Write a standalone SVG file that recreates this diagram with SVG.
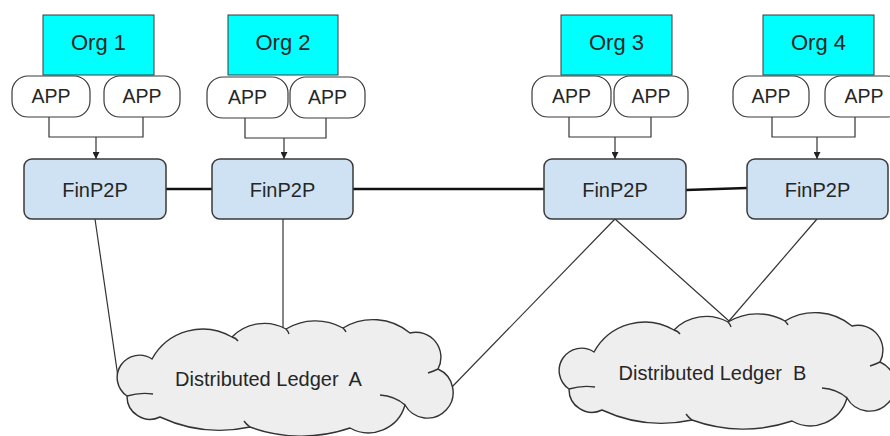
<svg xmlns="http://www.w3.org/2000/svg" width="890" height="436" viewBox="0 0 890 436">
<style>
.org{fill:#00ffff;stroke:#3a3a3a;stroke-width:1}
.app{fill:#ffffff;stroke:#3a3a3a;stroke-width:1.2}
.fin{fill:#cfe2f3;stroke:#3a3a3a;stroke-width:1.5}
.t{font-family:"Liberation Sans",Arial,sans-serif;fill:#262626;text-anchor:middle}
.to{font-size:22px}
.ta{font-size:19.5px}
.tf{font-size:20px}
.tc{font-size:20px;white-space:pre}
.conn{fill:none;stroke:#333;stroke-width:1.2}
.link{fill:none;stroke:#111;stroke-width:2.6}
.low{fill:none;stroke:#333;stroke-width:1.2}
.cloud{fill:#eeeeee;stroke:#333;stroke-width:1.4}
.hook{fill:none;stroke:#333;stroke-width:1.4}
</style>
<defs>
<marker id="arr" markerUnits="userSpaceOnUse" markerWidth="7" markerHeight="7" refX="7" refY="3.5" orient="auto">
<path d="M0,0 L7,3.5 L0,7 z" fill="#222"/>
</marker>
<g id="cloudShape">
<path class="cloud" d="M127,396 A22,22 0 0 1 152,359 A58,58 0 0 1 232,337 A45,45 0 0 1 286,329 A57,57 0 0 1 343,328 A58,58 0 0 1 410,333 A25,25 0 0 1 438,369 A25.7,25.7 0 1 1 405,405 A38,38 0 0 1 350,428 A150,150 0 0 1 250,427 A142,142 0 0 1 160,417 A23,23 0 0 1 127,396 Z"/>
<path class="hook" d="M127,396 Q140,392 153,394 M232,337 Q236,338 238,341 M286,329 Q288,331 289,334 M343,328 Q345,330 346,332 M438,369 Q434,371 428,373 M380,395 Q395,396 405,405 M250,427 Q246,424 244,421"/>
</g>
</defs>

<g id="connectors">
<path class="conn" d="M49,117 V137 H143 V117"/>
<path class="conn" d="M96,137 V159" marker-end="url(#arr)"/>
<path class="conn" d="M245,118 V138 H326 V118"/>
<path class="conn" d="M284,138 V159" marker-end="url(#arr)"/>
<path class="conn" d="M569,117 V137 H651 V117"/>
<path class="conn" d="M615,137 V159" marker-end="url(#arr)"/>
<path class="conn" d="M772,117 V137 H855 V117"/>
<path class="conn" d="M817,137 V159" marker-end="url(#arr)"/>
<path class="link" d="M166,189 H212"/>
<path class="link" d="M353,189 H544"/>
<path class="link" d="M686,190 L747,188"/>
<path class="low" d="M95,219 L118,377"/>
<path class="low" d="M283,219 V328"/>
<path class="low" d="M615,219 L451,388"/>
<path class="low" d="M615,219 L729,321"/>
<path class="low" d="M817,219 L729,321"/>
</g>

<g id="org1">
<rect class="org" x="43" y="15" width="111" height="60"/>
<text class="t to" x="98.5" y="50">Org 1</text>
</g>
<g id="org2">
<rect class="org" x="228" y="15" width="110" height="60"/>
<text class="t to" x="283" y="50">Org 2</text>
</g>
<g id="org3">
<rect class="org" x="561" y="15" width="111" height="60"/>
<text class="t to" x="616.5" y="50">Org 3</text>
</g>
<g id="org4">
<rect class="org" x="763" y="15" width="111" height="60"/>
<text class="t to" x="818.5" y="50">Org 4</text>
</g>

<g id="app1a"><rect class="app" x="12" y="76" width="78" height="41" rx="16"/><text class="t ta" x="51" y="103">APP</text></g>
<g id="app1b"><rect class="app" x="104" y="76" width="76" height="41" rx="16"/><text class="t ta" x="142" y="103">APP</text></g>
<g id="app2a"><rect class="app" x="207" y="77" width="81" height="41" rx="16"/><text class="t ta" x="247.5" y="104">APP</text></g>
<g id="app2b"><rect class="app" x="290" y="77" width="75" height="41" rx="16"/><text class="t ta" x="327.5" y="104">APP</text></g>
<g id="app3a"><rect class="app" x="532" y="76" width="79" height="41" rx="16"/><text class="t ta" x="571.5" y="103">APP</text></g>
<g id="app3b"><rect class="app" x="614" y="76" width="74" height="41" rx="16"/><text class="t ta" x="651" y="103">APP</text></g>
<g id="app4a"><rect class="app" x="733" y="76" width="76" height="41" rx="16"/><text class="t ta" x="771" y="103">APP</text></g>
<g id="app4b"><rect class="app" x="825" y="76" width="78" height="41" rx="16"/><text class="t ta" x="864" y="103">APP</text></g>

<g id="fin1"><rect class="fin" x="24" y="159" width="142" height="60" rx="8"/><text class="t tf" x="95" y="197">FinP2P</text></g>
<g id="fin2"><rect class="fin" x="212" y="159" width="141" height="60" rx="8"/><text class="t tf" x="282.5" y="197">FinP2P</text></g>
<g id="fin3"><rect class="fin" x="544" y="159" width="142" height="60" rx="8"/><text class="t tf" x="615" y="197">FinP2P</text></g>
<g id="fin4"><rect class="fin" x="747" y="159" width="141" height="60" rx="8"/><text class="t tf" x="817.5" y="197">FinP2P</text></g>

<g id="ledgerA">
<use href="#cloudShape"/>
<text class="t tc" x="268.5" y="386" xml:space="preserve">Distributed Ledger  A</text>
</g>
<g id="ledgerB">
<use href="#cloudShape" transform="translate(442,-7)"/>
<text class="t tc" x="712.5" y="380" xml:space="preserve">Distributed Ledger  B</text>
</g>
</svg>
